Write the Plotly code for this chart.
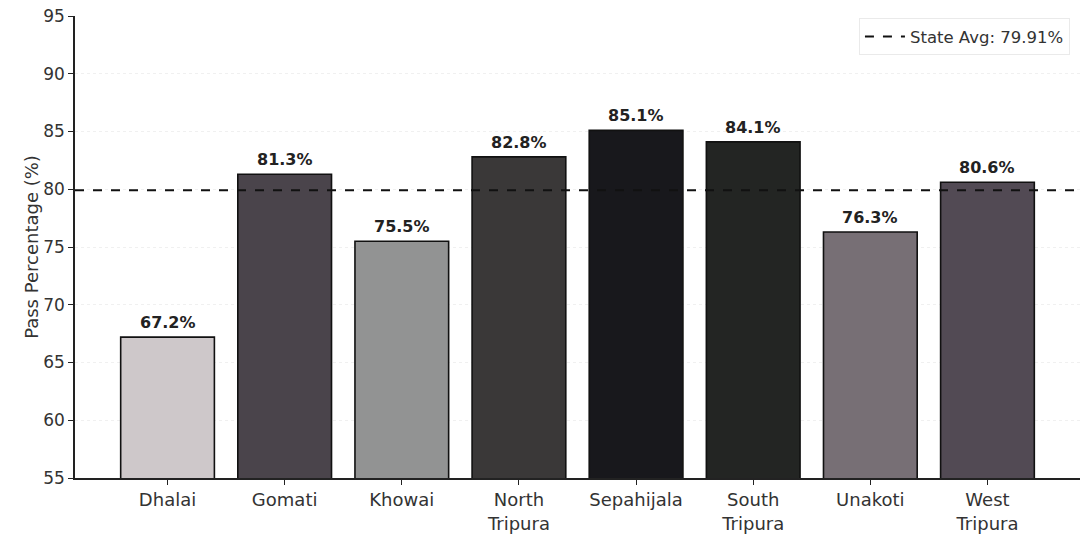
import plotly.graph_objects as go

districts = ["Dhalai", "Gomati", "Khowai", "North<br>Tripura", "Sepahijala",
             "South<br>Tripura", "Unakoti", "West<br>Tripura"]
pass_pct = [67.2, 81.3, 75.5, 82.8, 85.1, 84.1, 76.3, 80.6]
state_avg = 79.91
y_ticks = [55, 60, 65, 70, 75, 80, 85, 90, 95]

positions = list(range(len(districts)))

grey_scale = [
    [0.00, "rgb(206,200,202)"],
    [0.46, "rgb(148,150,150)"],
    [0.51, "rgb(118,110,116)"],
    [0.75, "rgb(82,74,84)"],
    [0.87, "rgb(58,56,56)"],
    [0.94, "rgb(36,38,36)"],
    [1.00, "rgb(24,24,28)"],
]

fig = go.Figure()
fig.add_trace(go.Bar(
    x=positions, y=pass_pct, width=0.8,
    marker=dict(color=pass_pct, colorscale=grey_scale,
                cmin=min(pass_pct), cmax=max(pass_pct),
                line=dict(color="#111", width=1.6)),
    base=0, showlegend=False, hoverinfo="skip",
))

for xv, yv in zip(positions, pass_pct):
    fig.add_annotation(x=xv, y=yv, text=f"<b>{yv:.1f}%</b>", showarrow=False,
                       yanchor="bottom", yshift=3,
                       font=dict(family="DejaVu Sans", size=16, color="#222"))

fig.add_shape(type="line", xref="paper", x0=0, x1=1, yref="y", y0=state_avg, y1=state_avg,
              line=dict(color="#111", width=2, dash="dash"),
              showlegend=True, name=f"State Avg: {state_avg:.2f}%")

fig.update_layout(
    width=1080, height=534,
    margin=dict(l=75, r=0, t=16, b=54),
    paper_bgcolor="white", plot_bgcolor="white",
    font=dict(family="DejaVu Sans", size=17, color="#333"),
    bargap=0.2,
    legend=dict(x=0.99, y=0.995, xanchor="right", yanchor="top",
                bgcolor="white", bordercolor="#eaeaea", borderwidth=1,
                itemwidth=40,
                font=dict(family="DejaVu Sans", size=16.5, color="#333")),
    xaxis=dict(range=[-0.79, len(districts) - 1 + 0.79],
               tickvals=positions, ticktext=districts,
               showline=True, linecolor="#222", linewidth=1.5,
               ticks="outside", ticklen=5, tickcolor="#222",
               showgrid=False, zeroline=False,
               tickfont=dict(size=18, color="#333")),
    yaxis=dict(range=[55, 95], tickvals=y_ticks,
               showline=True, linecolor="#222", linewidth=1.5,
               ticks="outside", ticklen=5, tickcolor="#222",
               ticklabeloverflow="allow", automargin=False,
               showgrid=True, gridcolor="#f0f0f0", griddash="dot", gridwidth=1,
               zeroline=False,
               title=dict(text="Pass Percentage (%)", font=dict(size=18, color="#333"),
                          standoff=0),
               tickfont=dict(size=17, color="#333")),
)

fig.write_html("out.html", config={"displayModeBar": False},
               post_script="document.body.style.margin='0';")
